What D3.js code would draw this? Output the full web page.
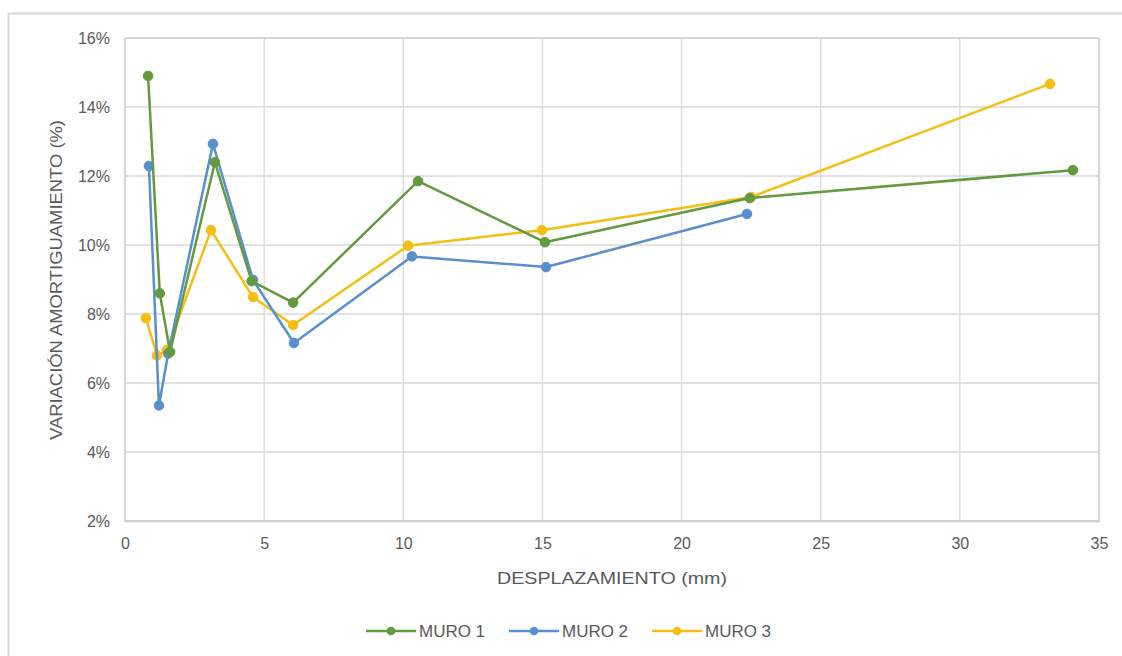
<!DOCTYPE html>
<html><head><meta charset="utf-8">
<script src="https://cdn.jsdelivr.net/npm/d3@7"></script>
<style>
html,body{margin:0;padding:0;background:#fff;}
text{font-family:"Liberation Sans",Arial,sans-serif;fill:#595959;}
</style></head><body>
<svg id="c" width="1122" height="656"></svg>
<script>
const seriesNames = ["MURO 1", "MURO 2", "MURO 3"];
const muro1X = [0.83, 1.25, 1.62, 3.23, 4.55, 6.04, 10.53, 15.09, 22.45, 34.06];
const muro1Y = [14.9, 8.6, 6.9, 12.4, 8.95, 8.33, 11.85, 10.08, 11.36, 12.17];
const muro2X = [0.86, 1.22, 1.55, 3.16, 4.6, 6.07, 10.31, 15.13, 22.35];
const muro2Y = [12.29, 5.35, 6.85, 12.93, 8.99, 7.16, 9.67, 9.36, 10.9];
const muro3X = [0.75, 1.15, 1.5, 3.09, 4.6, 6.04, 10.17, 14.98, 22.5, 33.24];
const muro3Y = [7.88, 6.8, 6.95, 10.43, 8.49, 7.68, 9.98, 10.43, 11.39, 14.67];
const xTicks = [0, 5, 10, 15, 20, 25, 30, 35];
const yTicks = [2, 4, 6, 8, 10, 12, 14, 16];
const colors = ["#639a40", "#5a8fcf", "#f4bf12"];

const svg = d3.select("#c");
// chart area border
svg.append("rect").attr("x", 8.5).attr("y", 13.5).attr("width", 1130).attr("height", 660)
  .attr("fill", "none").attr("stroke", "#d9d9d9").attr("stroke-width", 2);

const L = 125, R = 1099, T = 38, B = 521;
const x = d3.scaleLinear().domain([0, 35]).range([L, R]);
const y = d3.scaleLinear().domain([2, 16]).range([B, T]);

// grid
const g = svg.append("g");
g.selectAll("line.v").data(xTicks).join("line")
  .attr("x1", d => x(d)).attr("x2", d => x(d)).attr("y1", T).attr("y2", B)
  .attr("stroke", "#d9d9d9").attr("stroke-width", 1.3);
g.selectAll("line.h").data(yTicks).join("line")
  .attr("x1", L).attr("x2", R).attr("y1", d => y(d)).attr("y2", d => y(d))
  .attr("stroke", "#d9d9d9").attr("stroke-width", 1.3);
g.append("rect").attr("x", L).attr("y", T).attr("width", R - L).attr("height", B - T)
  .attr("fill", "none").attr("stroke", "#d0d0d0").attr("stroke-width", 1.3);

// axes
const xAxis = svg.append("g").attr("transform", `translate(0,${B})`)
  .call(d3.axisBottom(x).tickValues(xTicks).tickSize(0).tickPadding(17).tickFormat(d3.format("d")));
xAxis.select(".domain").attr("stroke", "#cfcfcf").attr("stroke-width", 2.2);
xAxis.selectAll("text").attr("font-size", 16).attr("fill", "#616161")
  .style("font-family", '"Liberation Sans",Arial,sans-serif');

const yAxis = svg.append("g").attr("transform", `translate(${L},0)`)
  .call(d3.axisLeft(y).tickValues(yTicks).tickSize(0).tickPadding(15).tickFormat(d => d + "%"));
yAxis.select(".domain").remove();
yAxis.selectAll("text").attr("font-size", 16).attr("fill", "#616161")
  .style("font-family", '"Liberation Sans",Arial,sans-serif');

// axis titles
svg.append("text").attr("x", (L + R) / 2).attr("y", 584).attr("text-anchor", "middle")
  .attr("font-size", 17).attr("textLength", 230).attr("lengthAdjust", "spacingAndGlyphs")
  .text("DESPLAZAMIENTO (mm)");
svg.append("text").attr("transform", `translate(62,280) rotate(-90)`)
  .attr("x", -160).attr("font-size", 17).attr("textLength", 320).attr("lengthAdjust", "spacingAndGlyphs")
  .text("VARIACIÓN AMORTIGUAMIENTO (%)");

// series
const data = [
  muro1X.map((v, i) => [v, muro1Y[i]]),
  muro2X.map((v, i) => [v, muro2Y[i]]),
  muro3X.map((v, i) => [v, muro3Y[i]])
];
const line = d3.line().x(d => x(d[0])).y(d => y(d[1]));
const order = [2, 1, 0];
order.forEach(si => {
  svg.append("path").datum(data[si]).attr("d", line).attr("fill", "none")
    .attr("stroke", colors[si]).attr("stroke-width", 2.5).attr("stroke-linejoin", "round");
  svg.append("g").selectAll("circle").data(data[si]).join("circle")
    .attr("cx", d => x(d[0])).attr("cy", d => y(d[1])).attr("r", 4.8)
    .attr("fill", colors[si]).attr("stroke", colors[si]).attr("stroke-width", 1);
});

// legend
const legX = [366, 509, 652];
seriesNames.forEach((name, i) => {
  const lg = svg.append("g").attr("transform", `translate(${legX[i]},631)`);
  lg.append("line").attr("x1", 0).attr("x2", 50).attr("y1", 0).attr("y2", 0)
    .attr("stroke", colors[i]).attr("stroke-width", 2.5);
  lg.append("circle").attr("cx", 25).attr("cy", 0).attr("r", 4.3).attr("fill", colors[i]);
  lg.append("text").attr("x", 53).attr("y", 6).attr("font-size", 17)
    .attr("textLength", 66).attr("lengthAdjust", "spacingAndGlyphs").text(name);
});
</script>
</body></html>
